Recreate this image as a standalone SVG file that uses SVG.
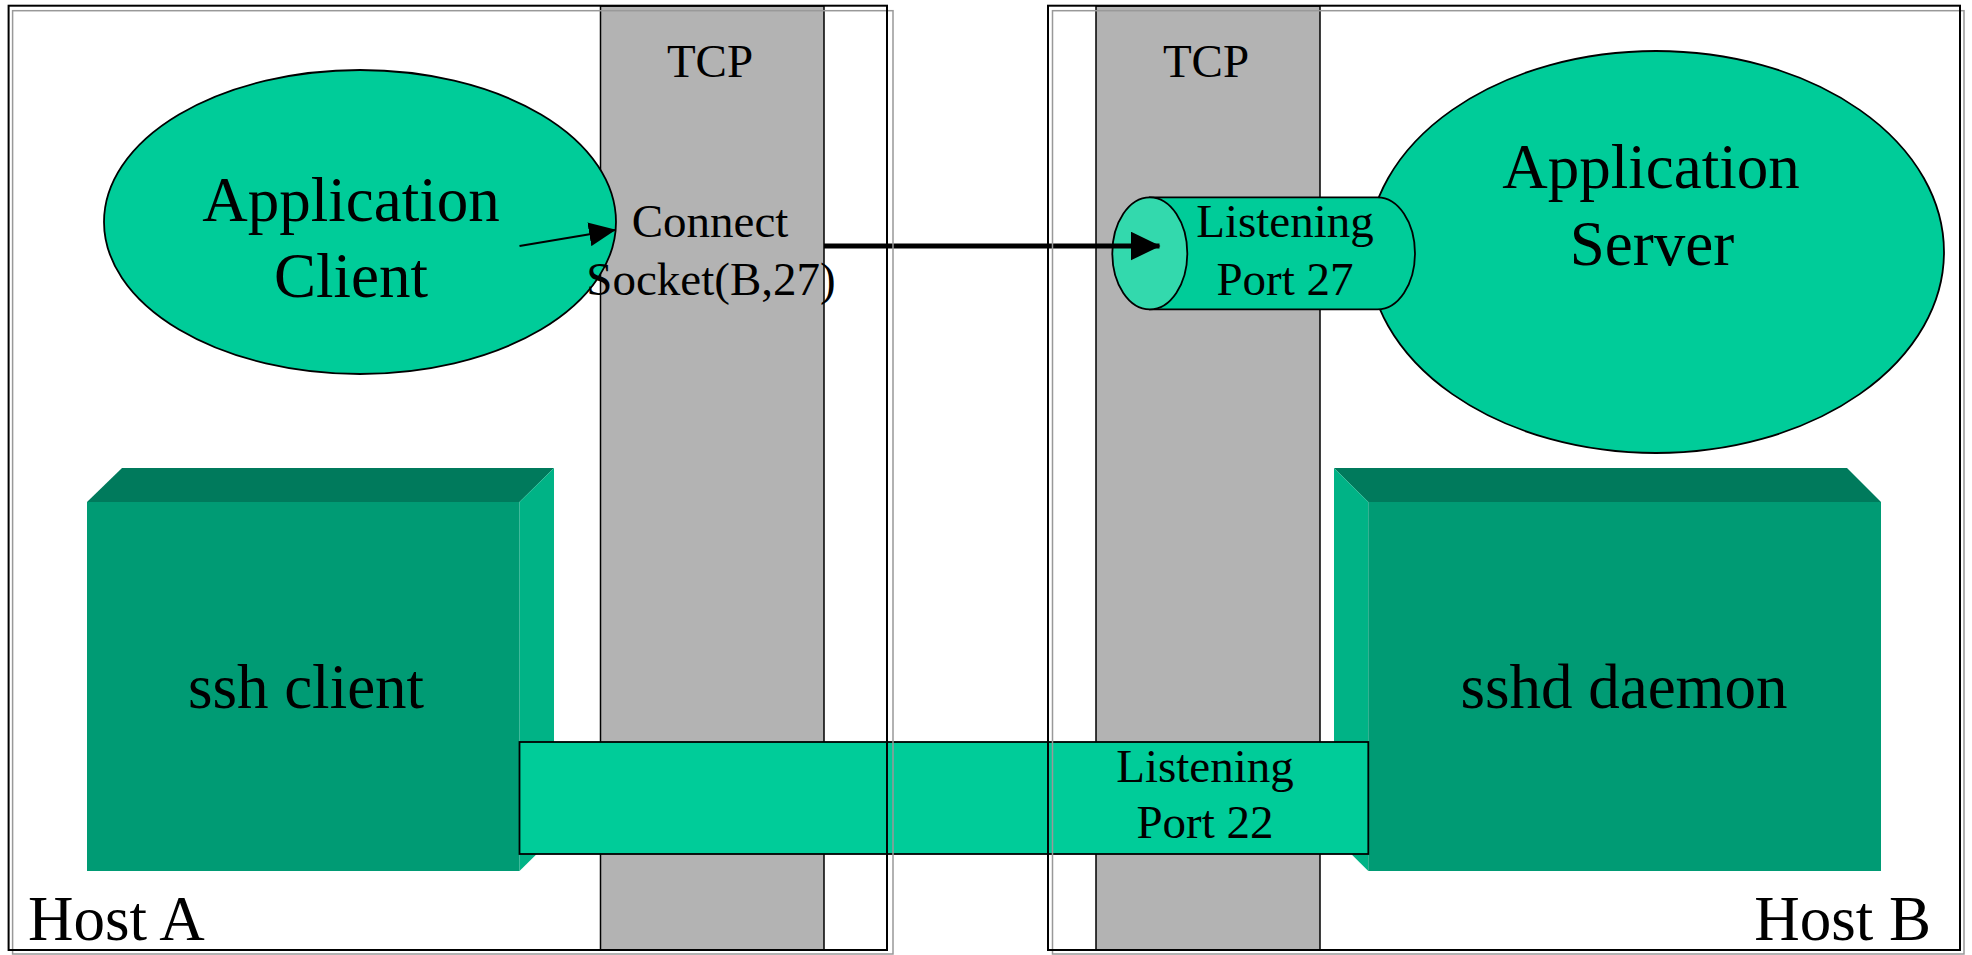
<svg xmlns="http://www.w3.org/2000/svg" width="1972" height="955" viewBox="0 0 1972 955">
<style>
  text { font-family: "Liberation Serif", "Times New Roman", serif; fill: #000; text-anchor: middle; }
  .big { font-size: 63px; }
  .mid { font-size: 47px; }
  .tcp { fill: #b3b3b3; stroke: #000; stroke-width: 1.5; }
  .green { fill: #00cc99; stroke: #000; stroke-width: 1.8; }
  .front { fill: #009b74; }
  .top { fill: #007a5c; }
  .side { fill: #00b386; }
  .frame { fill: none; stroke: #000; stroke-width: 2; }
  .shadow { fill: none; stroke: #999; stroke-width: 1.5; }
  .conn { stroke: #000; fill: none; }
</style>
<defs>
  <marker id="ah-small" viewBox="0 0 27 24" refX="26" refY="12" markerWidth="27" markerHeight="24" markerUnits="userSpaceOnUse" orient="auto">
    <path d="M0,0 L27,12 L0,24 Z" fill="#000"/>
  </marker>
  <marker id="ah-big" viewBox="0 0 30 29" refX="29" refY="14.5" markerWidth="30" markerHeight="29" markerUnits="userSpaceOnUse" orient="auto">
    <path d="M0,0 L30,14.5 L0,29 Z" fill="#000"/>
  </marker>
</defs>
<rect x="0" y="0" width="1972" height="955" fill="#fff"/>

<g id="tcp-a">
  <rect class="tcp" x="600.5" y="6" width="223.5" height="944"/>
  <text class="mid" x="710" y="77">TCP</text>
</g>
<g id="tcp-b">
  <rect class="tcp" x="1096" y="6" width="224" height="944"/>
  <text class="mid" x="1206" y="77">TCP</text>
</g>

<g id="application-client">
  <ellipse class="green" cx="360" cy="222" rx="256" ry="152"/>
  <text class="big" x="351" y="221">Application</text>
  <text class="big" x="351" y="297">Client</text>
</g>

<g id="application-server">
  <ellipse class="green" cx="1656" cy="252" rx="288" ry="201"/>
  <text class="big" x="1651" y="188">Application</text>
  <text class="big" x="1652" y="265">Server</text>
</g>

<g id="ssh-client">
  <polygon class="top" points="87,502 122,468 554,468 519.5,502"/>
  <polygon class="side" points="519.5,502 554,468 554,837 519.5,871"/>
  <rect class="front" x="87" y="502" width="432.5" height="369"/>
  <text class="big" x="306" y="708">ssh client</text>
</g>

<g id="sshd-daemon">
  <polygon class="top" points="1334,468 1847,468 1881,502 1368.3,502"/>
  <polygon class="side" points="1334,468 1368.3,502 1368.3,871 1334,837"/>
  <rect class="front" x="1368.3" y="502" width="512.7" height="369"/>
  <text class="big" x="1624" y="708">sshd daemon</text>
</g>

<g id="listening-port-22">
  <rect class="green" x="519.5" y="742" width="848.8" height="112" stroke-width="2"/>
  <text class="mid" x="1205" y="782">Listening</text>
  <text class="mid" x="1205" y="838">Port 22</text>
</g>

<g id="listening-port-27">
  <path class="green" d="M1149.8,197.3 H1377.5 A37.5,56 0 0 1 1377.5,309.3 H1149.8 Z"/>
  <ellipse cx="1149.8" cy="253.3" rx="37.5" ry="56" fill="#33d9ad" stroke="#000" stroke-width="1.8"/>
  <text class="mid" x="1285" y="237">Listening</text>
  <text class="mid" x="1285" y="295">Port 27</text>
</g>

<g id="connectors">
  <line class="conn" x1="519.5" y1="246" x2="615" y2="230" stroke-width="2" marker-end="url(#ah-small)"/>
  <line class="conn" x1="824" y1="246" x2="1159.5" y2="246" stroke-width="5" marker-end="url(#ah-big)"/>
</g>

<g id="connect-socket-label">
  <text class="mid" x="710" y="237">Connect</text>
  <text class="mid" x="711" y="295">Socket(B,27)</text>
</g>

<g id="host-a">
  <rect class="shadow" x="12.6" y="10.7" width="880.4" height="943.3"/>
  <rect class="frame" x="8.6" y="5.7" width="878.4" height="944.3"/>
  <text class="big" x="28" y="940" style="text-anchor:start">Host A</text>
</g>
<g id="host-b">
  <rect class="shadow" x="1052.5" y="10.7" width="911.5" height="943.3"/>
  <rect class="frame" x="1048" y="5.7" width="912" height="944.3"/>
  <text class="big" x="1931" y="940" style="text-anchor:end">Host B</text>
</g>
</svg>
